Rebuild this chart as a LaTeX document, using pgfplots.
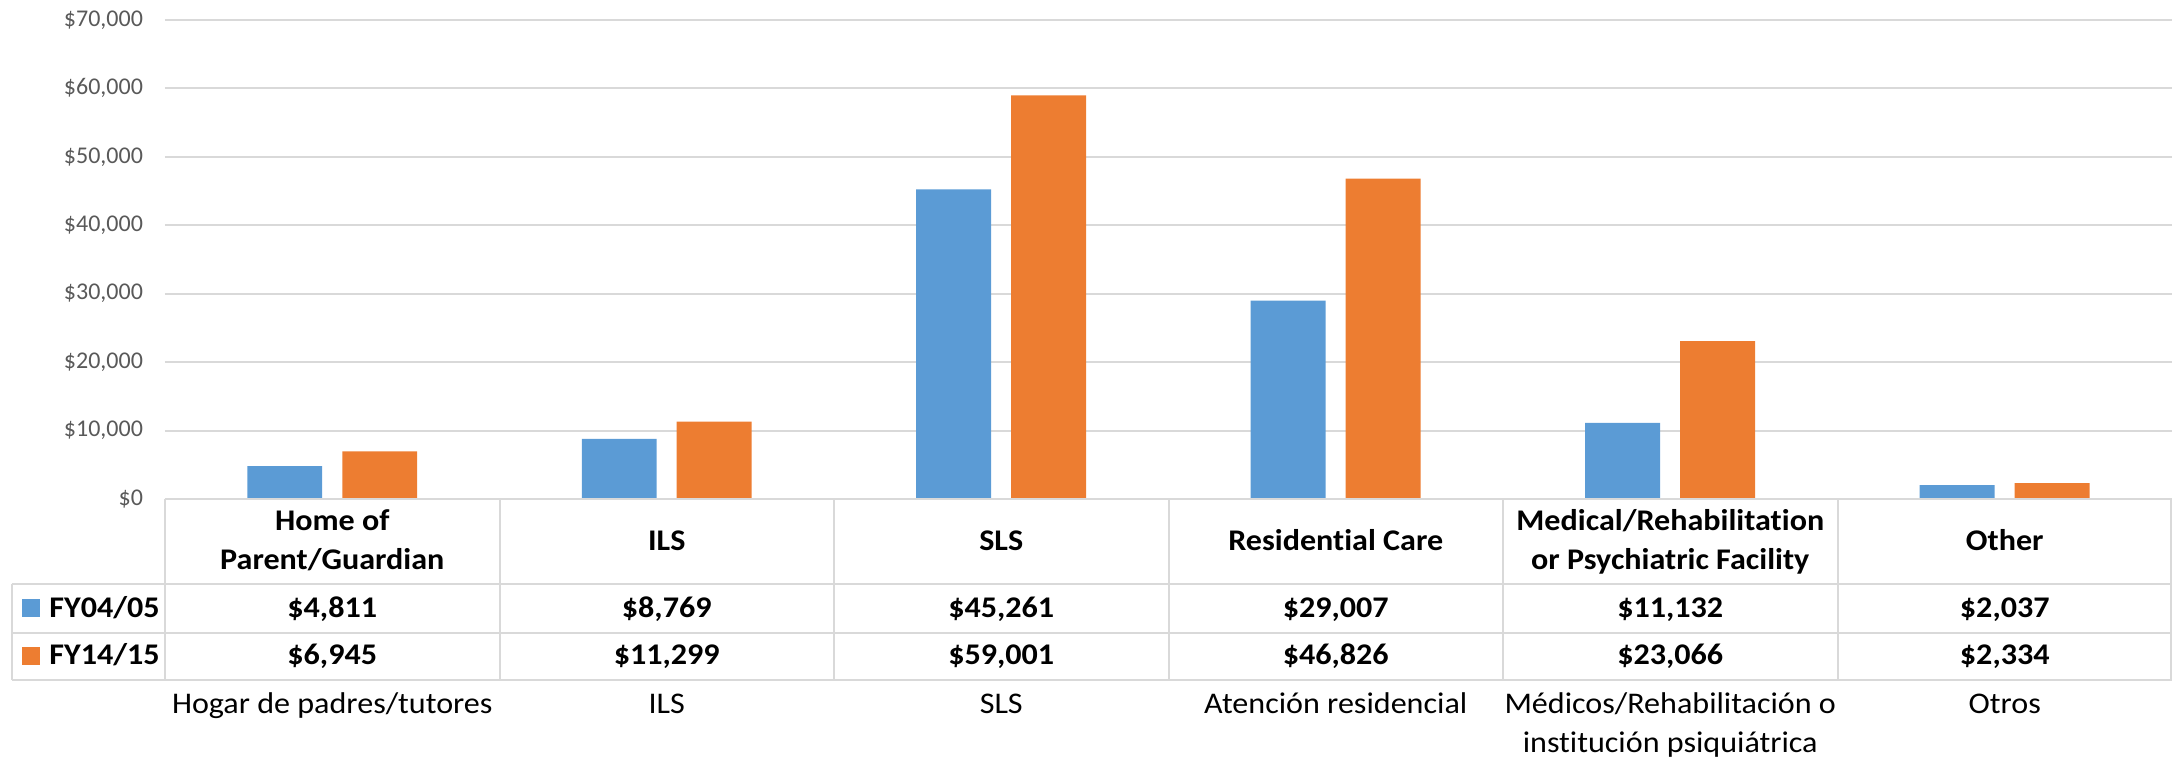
\documentclass[border=0pt]{standalone}
\usepackage{fontspec}
\setmainfont{Carlito}[Ligatures=NoCommon]
\newfontfamily\widefont{Carlito}[FakeStretch=1.07, Ligatures=NoCommon]
\usepackage{pgfplots}
\usepackage{pgfplotstable}
\pgfplotsset{compat=1.18}

\definecolor{cblue}{HTML}{5B9BD5}
\definecolor{corange}{HTML}{ED7D31}
\definecolor{cgrid}{HTML}{D9D9D9}
\definecolor{ctick}{HTML}{595959}

% cost per person by residence type
\pgfplotstableread{
x a b
0 4811 6945
1 8769 11299
2 45261 59001
3 29007 46826
4 11132 23066
5 2037 2334
}\costs

\newcommand\cellfont{\widefont\fontsize{15}{19.5}\selectfont}
\pgfkeys{/pgf/number format/.cd, fixed, precision=0, 1000 sep={,}, assume math mode=true}

\begin{document}
\begin{tikzpicture}
\begin{axis}[
  at={(0,0)}, anchor=south west,
  scale only axis, width=1003.5pt, height=239.5pt,
  xmin=-0.5, xmax=5.5, ymin=0, ymax=70000,
  axis line style={draw=none},
  xtick=\empty,
  ytick={0,10000,...,70000},
  scaled y ticks=false,
  yticklabels={\$0,{\$10,000},{\$20,000},{\$30,000},{\$40,000},{\$50,000},{\$60,000},{\$70,000}},
  major tick length=0pt,
  ymajorgrids, grid style={cgrid, line width=1pt},
  yticklabel style={font=\fontsize{12}{14}\selectfont, text=ctick, xshift=-7.5pt},
  clip=false]
\addplot[ybar, bar width=0.224, bar shift=-0.142, fill=cblue, draw=none] table[x=x, y=a] {\costs};
\addplot[ybar, bar width=0.224, bar shift=0.142, fill=corange, draw=none] table[x=x, y=b] {\costs};
\end{axis}

% data table under the plot, 1 category = 167.25pt
\begin{scope}[cgrid, line width=1pt]
  \draw (0,0) -- (1003.5pt,0);
  \foreach \yy in {-42.5,-67,-90.5}
    \draw (-76.5pt,\yy pt) -- (1003.5pt,\yy pt);
  \foreach \i in {0,...,5}
    \draw (\i*167.25pt,0) -- (\i*167.25pt,-90.5pt);
  \draw (1003pt,0) -- (1003pt,-90.5pt);
  \draw (-76.5pt,-42.5pt) -- (-76.5pt,-90.5pt);
\end{scope}

% legend column
\fill[cblue] (-71.5pt,-50pt) rectangle (-62.5pt,-59pt);
\fill[corange] (-71.5pt,-74pt) rectangle (-62.5pt,-83pt);
\node[anchor=base west, inner sep=0pt, font=\cellfont\bfseries] at (-58pt,-59.5pt) {FY04/05};
\node[anchor=base west, inner sep=0pt, font=\cellfont\bfseries] at (-58pt,-83pt) {FY14/15};

% English headers
\foreach \i/\la/\lb in {0/Home of/Parent\slash Guardian, 4/Medical\slash Rehabilitation/or Psychiatric Facility}{
  \node[anchor=base, inner sep=0pt, font=\cellfont\bfseries] at ({(\i+0.5)*167.25pt},-16pt) {\la};
  \node[anchor=base, inner sep=0pt, font=\cellfont\bfseries] at ({(\i+0.5)*167.25pt},-35.5pt) {\lb};
}
\foreach \i/\la in {1/ILS, 2/SLS, 3/Residential Care, 5/Other}
  \node[anchor=base, inner sep=0pt, font=\cellfont\bfseries] at ({(\i+0.5)*167.25pt},-26pt) {\la};

% values
\foreach \i in {0,...,5}{
  \pgfplotstablegetelem{\i}{a}\of\costs
  \node[anchor=base, inner sep=0pt, font=\cellfont\bfseries] at ({(\i+0.5)*167.25pt},-59.5pt) {\$\pgfmathprintnumber{\pgfplotsretval}};
  \pgfplotstablegetelem{\i}{b}\of\costs
  \node[anchor=base, inner sep=0pt, font=\cellfont\bfseries] at ({(\i+0.5)*167.25pt},-83pt) {\$\pgfmathprintnumber{\pgfplotsretval}};
}

% Spanish labels
\foreach \i/\la in {0/Hogar de padres\slash tutores, 1/ILS, 2/SLS, 3/Atención residencial, 4/Médicos\slash Rehabilitación o, 5/Otros}
  \node[anchor=base, inner sep=0pt, font=\cellfont] at ({(\i+0.5)*167.25pt},-107.5pt) {\la};
\node[anchor=base, inner sep=0pt, font=\cellfont] at ({4.5*167.25pt},-127pt) {institución psiquiátrica};

\pgfresetboundingbox
\path[use as bounding box] (-82.5pt,-129.5pt) rectangle (1003.5pt,249.5pt);
\end{tikzpicture}
\end{document}
